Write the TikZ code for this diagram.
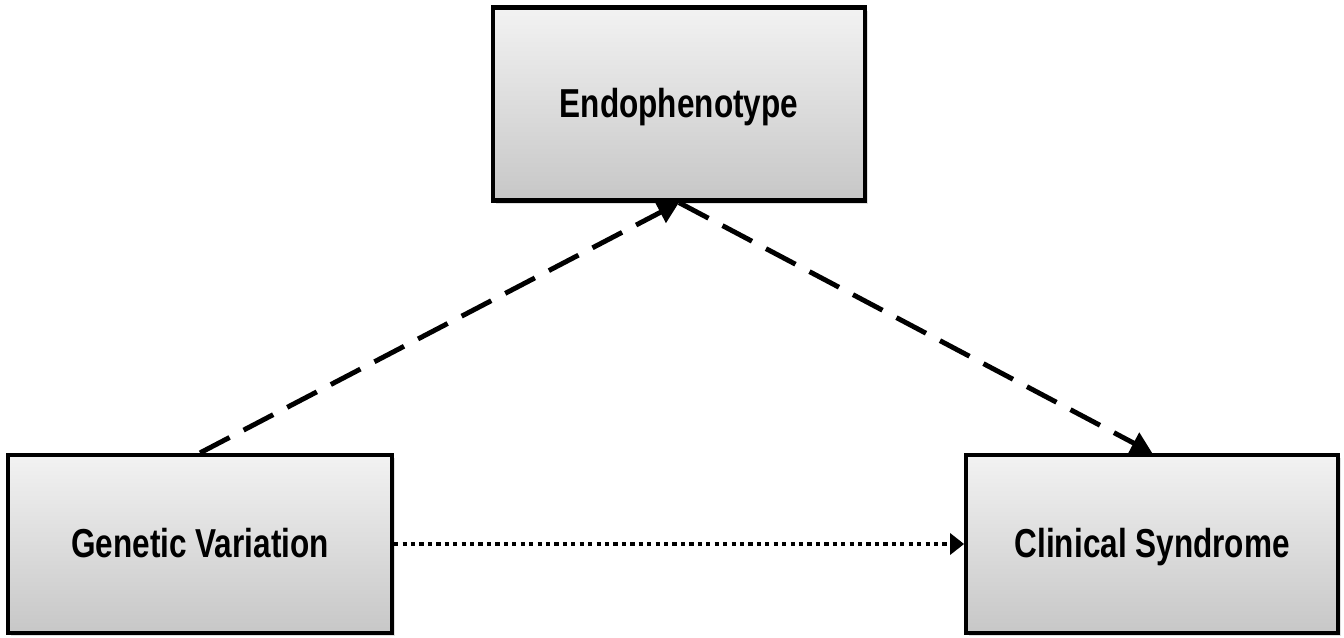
\documentclass[tikz,border=0pt]{standalone}
\usepackage{fontspec}
\setmainfont{Liberation Sans}[FakeStretch=0.78]
\usetikzlibrary{arrows.meta,positioning,shadows}
\tikzset{
    %Define standard arrow tip
    >={Triangle[length=6pt,width=6.5pt]},
    %Define style for boxes
    kasten/.style={
           rectangle,
           draw=black, line width=1.2pt,
           top color=black!5, bottom color=black!22,
           drop shadow={shadow xshift=0.03, shadow yshift=-0.03, opacity=0.25},
           font=\fontsize{11.5}{13}\selectfont\bfseries,
           text height=2.0ex, text depth=0.5ex,
           text centered},
    % Define arrow styles
    pfeil/.style={
           ->,
           line width=1.4pt,
           dash pattern=on 9.5pt off 4.5pt},
    punktpfeil/.style={
           -{Triangle[length=4pt,width=6pt]},
           line width=1.2pt,
           dash pattern=on 1.2pt off 1.2pt}
}
\begin{document}
\begin{tikzpicture}
\useasboundingbox (0,0) rectangle (13.44,6.37);
\node[kasten, minimum width=3.84cm, minimum height=1.78cm] (gen) at (2.00,0.93) {Genetic Variation};
\node[kasten, minimum width=3.72cm, minimum height=1.78cm, right=5.70cm of gen] (clin) {Clinical Syndrome};
\node[kasten, minimum width=3.72cm, minimum height=1.93cm] (endo) at (6.79,5.33) {Endophenotype};
 \path
    (gen.north) edge[pfeil] (endo.south)
    (endo.south) edge[pfeil] (clin.north)
    (gen.east) edge[punktpfeil] (clin.west);
\end{tikzpicture}
\end{document}
